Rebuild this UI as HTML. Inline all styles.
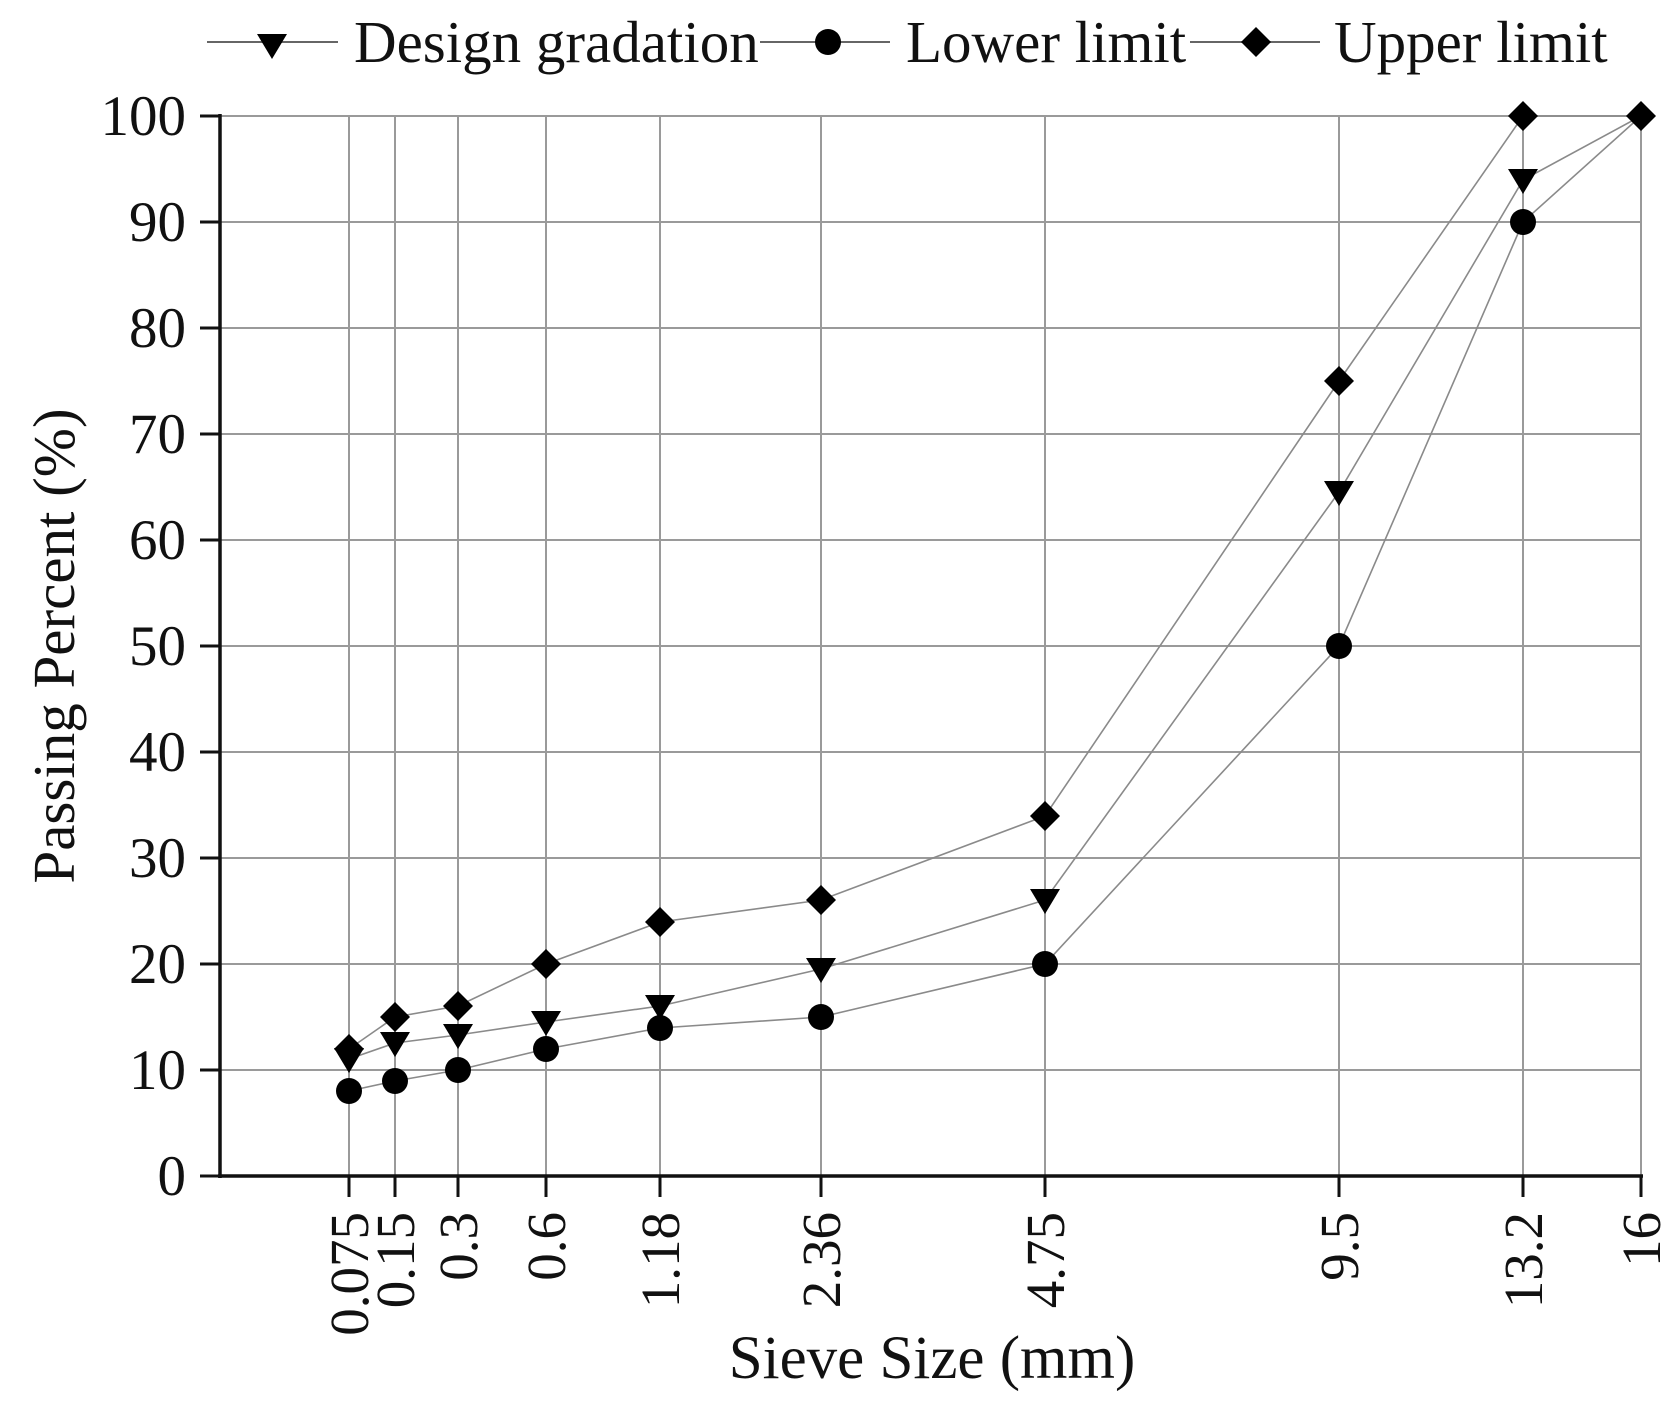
<!DOCTYPE html>
<html><head><meta charset="utf-8"><style>
html,body{margin:0;padding:0;background:#fff}
svg{display:block}
text{font-family:"Liberation Serif",serif;fill:#111}
</style></head><body>
<svg width="1680" height="1417" viewBox="0 0 1680 1417" xmlns="http://www.w3.org/2000/svg">
<g stroke="#9a9a9a" stroke-width="2">
<line x1="220" y1="116" x2="1641" y2="116"/>
<line x1="220" y1="222" x2="1641" y2="222"/>
<line x1="220" y1="328" x2="1641" y2="328"/>
<line x1="220" y1="434" x2="1641" y2="434"/>
<line x1="220" y1="540" x2="1641" y2="540"/>
<line x1="220" y1="646" x2="1641" y2="646"/>
<line x1="220" y1="752" x2="1641" y2="752"/>
<line x1="220" y1="858" x2="1641" y2="858"/>
<line x1="220" y1="964" x2="1641" y2="964"/>
<line x1="220" y1="1070" x2="1641" y2="1070"/>
<line x1="349" y1="116" x2="349" y2="1176"/>
<line x1="395" y1="116" x2="395" y2="1176"/>
<line x1="458" y1="116" x2="458" y2="1176"/>
<line x1="546" y1="116" x2="546" y2="1176"/>
<line x1="660" y1="116" x2="660" y2="1176"/>
<line x1="821" y1="116" x2="821" y2="1176"/>
<line x1="1045" y1="116" x2="1045" y2="1176"/>
<line x1="1339" y1="116" x2="1339" y2="1176"/>
<line x1="1523" y1="116" x2="1523" y2="1176"/>
<line x1="1641" y1="116" x2="1641" y2="1176"/>
</g>
<g stroke="#111" stroke-width="3.5">
<line x1="220" y1="114" x2="220" y2="1178"/>
<line x1="218" y1="1176" x2="1643" y2="1176"/>
</g>
<g stroke="#111" stroke-width="3">
<line x1="200" y1="116" x2="220" y2="116"/><line x1="200" y1="222" x2="220" y2="222"/>
<line x1="200" y1="328" x2="220" y2="328"/><line x1="200" y1="434" x2="220" y2="434"/>
<line x1="200" y1="540" x2="220" y2="540"/><line x1="200" y1="646" x2="220" y2="646"/>
<line x1="200" y1="752" x2="220" y2="752"/><line x1="200" y1="858" x2="220" y2="858"/>
<line x1="200" y1="964" x2="220" y2="964"/><line x1="200" y1="1070" x2="220" y2="1070"/>
<line x1="200" y1="1176" x2="220" y2="1176"/>
<line x1="349" y1="1176" x2="349" y2="1197"/><line x1="395" y1="1176" x2="395" y2="1197"/>
<line x1="458" y1="1176" x2="458" y2="1197"/><line x1="546" y1="1176" x2="546" y2="1197"/>
<line x1="660" y1="1176" x2="660" y2="1197"/><line x1="821" y1="1176" x2="821" y2="1197"/>
<line x1="1045" y1="1176" x2="1045" y2="1197"/><line x1="1339" y1="1176" x2="1339" y2="1197"/>
<line x1="1523" y1="1176" x2="1523" y2="1197"/><line x1="1641" y1="1176" x2="1641" y2="1197"/>
</g>
<g font-size="57" text-anchor="end">
<text x="186" y="135">100</text><text x="186" y="241">90</text><text x="186" y="347">80</text>
<text x="186" y="453">70</text><text x="186" y="559">60</text><text x="186" y="665">50</text>
<text x="186" y="771">40</text><text x="186" y="877">30</text><text x="186" y="983">20</text>
<text x="186" y="1089">10</text><text x="186" y="1195">0</text>
</g>
<g font-size="55" text-anchor="end">
<text transform="translate(368,1212) rotate(-90)">0.075</text>
<text transform="translate(414,1212) rotate(-90)">0.15</text>
<text transform="translate(477,1212) rotate(-90)">0.3</text>
<text transform="translate(565,1212) rotate(-90)">0.6</text>
<text transform="translate(679,1212) rotate(-90)">1.18</text>
<text transform="translate(840,1212) rotate(-90)">2.36</text>
<text transform="translate(1064,1212) rotate(-90)">4.75</text>
<text transform="translate(1358,1212) rotate(-90)">9.5</text>
<text transform="translate(1542,1212) rotate(-90)">13.2</text>
<text transform="translate(1660,1212) rotate(-90)">16</text>
</g>
<text x="932" y="1378" font-size="61" text-anchor="middle">Sieve Size (mm)</text>
<text transform="translate(74,646) rotate(-90)" font-size="59" text-anchor="middle">Passing Percent (%)</text>
<g fill="none" stroke="#8a8a8a" stroke-width="1.6">
<polyline points="349,1059 395,1043 458,1035 546,1022 660,1006 821,969 1045,900 1339,492 1523,180 1641,116"/>
<polyline points="349,1091 395,1081 458,1070 546,1049 660,1028 821,1017 1045,964 1339,646 1523,222 1641,116"/>
<polyline points="349,1049 395,1017 458,1006 546,964 660,922 821,900 1045,816 1339,381 1523,116 1641,116"/>
</g>
<defs>
<path id="tri" d="M-15,-11 L15,-11 L0,14 Z"/>
<path id="dia" d="M0,-15 L15,0 L0,15 L-15,0 Z"/>
</defs>
<g fill="#000">
<use href="#dia" x="349" y="1049"/><use href="#dia" x="395" y="1017"/><use href="#dia" x="458" y="1006"/>
<use href="#dia" x="546" y="964"/><use href="#dia" x="660" y="922"/><use href="#dia" x="821" y="900"/>
<use href="#dia" x="1045" y="816"/><use href="#dia" x="1339" y="381"/><use href="#dia" x="1523" y="116"/><use href="#dia" x="1641" y="116"/>
<use href="#tri" x="349" y="1059"/><use href="#tri" x="395" y="1043"/><use href="#tri" x="458" y="1035"/>
<use href="#tri" x="546" y="1022"/><use href="#tri" x="660" y="1006"/><use href="#tri" x="821" y="969"/>
<use href="#tri" x="1045" y="900"/><use href="#tri" x="1339" y="492"/><use href="#tri" x="1523" y="180"/>
<circle cx="349" cy="1091" r="13"/><circle cx="395" cy="1081" r="13"/><circle cx="458" cy="1070" r="13"/>
<circle cx="546" cy="1049" r="13"/><circle cx="660" cy="1028" r="13"/><circle cx="821" cy="1017" r="13"/>
<circle cx="1045" cy="964" r="13"/><circle cx="1339" cy="646" r="13"/><circle cx="1523" cy="222" r="13"/>
</g>
<g stroke="#666" stroke-width="2">
<line x1="207" y1="42" x2="338" y2="42"/>
<line x1="760" y1="42" x2="890" y2="42"/>
<line x1="1190" y1="42" x2="1320" y2="42"/>
</g>
<g fill="#000">
<use href="#tri" x="272" y="45"/>
<circle cx="828" cy="42" r="13"/>
<use href="#dia" x="1256" y="42"/>
</g>
<g font-size="59">
<text x="354" y="62">Design gradation</text>
<text x="906" y="62">Lower limit</text>
<text x="1334" y="62">Upper limit</text>
</g>
</svg>
</body></html>
